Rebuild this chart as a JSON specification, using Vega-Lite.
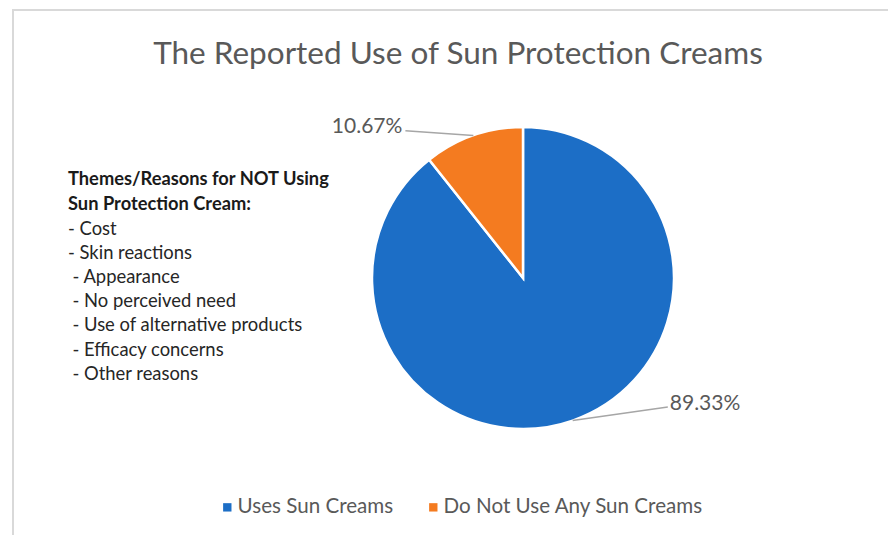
{
  "$schema": "https://vega.github.io/schema/vega-lite/v6.json",
  "width": 878,
  "height": 528,
  "autosize": {"type": "none"},
  "padding": {"left": 13, "top": 10, "right": -3, "bottom": -3},
  "background": "white",
  "title": {
    "text": "The Reported Use of Sun Protection Creams",
    "anchor": "middle",
    "frame": "group",
    "offset": -60,
    "dx": 6,
    "font": "Lato",
    "fontSize": 31.5,
    "fontWeight": "normal",
    "color": "#595959"
  },
  "config": {
    "view": {"stroke": "#d9d9d9", "strokeWidth": 2},
    "font": "Lato"
  },
  "datasets": {
    "shares": [
      {"category": "Uses Sun Creams", "value": 89.33},
      {"category": "Do Not Use Any Sun Creams", "value": 10.67}
    ],
    "reasons": [
      {"line": 0, "text": "Themes/Reasons for NOT Using"},
      {"line": 1, "text": "Sun Protection Cream:"},
      {"line": 2, "text": "- Cost"},
      {"line": 3, "text": "- Skin reactions"},
      {"line": 4, "text": "- Appearance"},
      {"line": 5, "text": "- No perceived need"},
      {"line": 6, "text": "- Use of alternative products"},
      {"line": 7, "text": "- Efficacy concerns"},
      {"line": 8, "text": "- Other reasons"}
    ]
  },
  "layer": [
    {
      "data": {"name": "shares"},
      "transform": [
        {"window": [{"op": "sum", "field": "value", "as": "cum"}], "sort": [{"field": "value", "order": "descending"}], "frame": [null, 0]},
        {"calculate": "2 * PI * (datum.cum - datum.value / 2) / 100", "as": "mid"},
        {"calculate": "sin(datum.mid)", "as": "x0"},
        {"calculate": "cos(datum.mid)", "as": "y0"},
        {"calculate": "datum.x0 + (datum.x0 > 0 ? 0.63 : -0.45)", "as": "x1"},
        {"calculate": "datum.y0 + (datum.x0 > 0 ? 0.09 : 0.03)", "as": "y1"},
        {"calculate": "format(datum.value, '.2f') + '%'", "as": "label"}
      ],
      "layer": [
        {
          "mark": {"type": "arc", "outerRadius": 151, "stroke": "white", "strokeWidth": 2.5},
          "encoding": {
            "theta": {"field": "value", "type": "quantitative", "stack": true},
            "order": {"field": "value", "type": "quantitative", "sort": "descending"},
            "color": {
              "field": "category",
              "type": "nominal",
              "scale": {"domain": ["Uses Sun Creams", "Do Not Use Any Sun Creams"], "range": ["#1c6ec6", "#f47b20"]},
              "legend": {
                "title": null,
                "orient": "none",
                "direction": "horizontal",
                "legendX": 204,
                "legendY": 487,
                "symbolType": "square",
                "symbolSize": 70,
                "symbolStrokeWidth": 0,
                "labelFont": "Lato",
                "labelFontSize": 20.6,
                "labelColor": "#595959",
                "labelOffset": 0,
                "labelLimit": 500,
                "columnPadding": 29
              }
            },
            "x": {"datum": 0, "type": "quantitative", "scale": {"domain": [-3.3775, 2.4371], "nice": false, "zero": false}, "axis": null},
            "y": {"datum": 0, "type": "quantitative", "scale": {"domain": [-1.7219, 1.7748], "nice": false, "zero": false}, "axis": null}
          }
        },
        {
          "mark": {"type": "rule", "color": "#a6a6a6", "strokeWidth": 1.5},
          "encoding": {
            "x": {"field": "x0", "type": "quantitative", "scale": {"domain": [-3.3775, 2.4371], "nice": false, "zero": false}, "axis": null},
            "y": {"field": "y0", "type": "quantitative", "scale": {"domain": [-1.7219, 1.7748], "nice": false, "zero": false}, "axis": null},
            "x2": {"field": "x1"},
            "y2": {"field": "y1"}
          }
        },
        {
          "transform": [{"filter": "datum.x0 < 0"}],
          "mark": {"type": "text", "align": "right", "baseline": "middle", "dx": -3, "dy": -4, "font": "Lato", "fontSize": 21, "color": "#595959"},
          "encoding": {
            "x": {"field": "x1", "type": "quantitative", "scale": {"domain": [-3.3775, 2.4371], "nice": false, "zero": false}, "axis": null},
            "y": {"field": "y1", "type": "quantitative", "scale": {"domain": [-1.7219, 1.7748], "nice": false, "zero": false}, "axis": null},
            "text": {"field": "label"}
          }
        },
        {
          "transform": [{"filter": "datum.x0 >= 0"}],
          "mark": {"type": "text", "align": "left", "baseline": "middle", "dx": 2, "dy": -3, "font": "Lato", "fontSize": 21, "color": "#595959"},
          "encoding": {
            "x": {"field": "x1", "type": "quantitative", "scale": {"domain": [-3.3775, 2.4371], "nice": false, "zero": false}, "axis": null},
            "y": {"field": "y1", "type": "quantitative", "scale": {"domain": [-1.7219, 1.7748], "nice": false, "zero": false}, "axis": null},
            "text": {"field": "label"}
          }
        }
      ]
    },
    {
      "data": {"name": "reasons"},
      "layer": [
        {
          "transform": [{"filter": "datum.line < 2"}],
          "mark": {"type": "text", "align": "left", "baseline": "middle", "font": "Lato", "fontSize": 18.3, "fontWeight": "bold", "color": "#1a1a1a"},
          "encoding": {
            "x": {"datum": -3.0132, "type": "quantitative", "scale": {"domain": [-3.3775, 2.4371], "nice": false, "zero": false}, "axis": null},
            "y": {"field": "line", "type": "quantitative", "scale": {"domain": [-7.05, 14.795], "reverse": true, "nice": false, "zero": false}, "axis": null},
            "text": {"field": "text"}
          }
        },
        {
          "transform": [{"filter": "datum.line >= 2 && datum.line < 4"}],
          "mark": {"type": "text", "align": "left", "baseline": "middle", "font": "Lato", "fontSize": 18.4, "color": "#262626"},
          "encoding": {
            "x": {"datum": -3.0132, "type": "quantitative", "scale": {"domain": [-3.3775, 2.4371], "nice": false, "zero": false}, "axis": null},
            "y": {"field": "line", "type": "quantitative", "scale": {"domain": [-7.05, 14.795], "reverse": true, "nice": false, "zero": false}, "axis": null},
            "text": {"field": "text"}
          }
        },
        {
          "transform": [{"filter": "datum.line >= 4"}],
          "mark": {"type": "text", "align": "left", "baseline": "middle", "dx": 4.5, "font": "Lato", "fontSize": 18.4, "color": "#262626"},
          "encoding": {
            "x": {"datum": -3.0132, "type": "quantitative", "scale": {"domain": [-3.3775, 2.4371], "nice": false, "zero": false}, "axis": null},
            "y": {"field": "line", "type": "quantitative", "scale": {"domain": [-7.05, 14.795], "reverse": true, "nice": false, "zero": false}, "axis": null},
            "text": {"field": "text"}
          }
        }
      ]
    }
  ],
  "resolve": {"scale": {"y": "independent"}}
}
